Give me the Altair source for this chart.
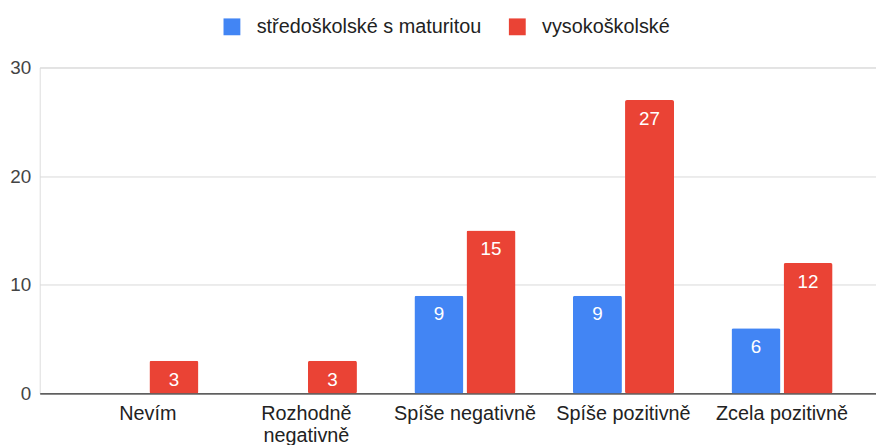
import altair as alt
import pandas as pd

categories = ["Nevím", "Rozhodně negativně", "Spíše negativně", "Spíše pozitivně", "Zcela pozitivně"]
series_names = ["středoškolské s maturitou", "vysokoškolské"]
stredoskolske = [None, None, 9, 9, 6]
vysokoskolske = [3, 3, 15, 27, 12]
colors = ["#4285F4", "#EA4335"]
y_ticks = [0, 10, 20, 30]

rows = []
for cat, a, b in zip(categories, stredoskolske, vysokoskolske):
    rows.append({"cat": cat, "series": series_names[0], "value": a})
    rows.append({"cat": cat, "series": series_names[1], "value": b})
df = pd.DataFrame(rows)

FONT = "Liberation Sans"

x_enc = alt.X("cat:N", sort=categories,
              scale=alt.Scale(domain=categories, paddingInner=0.3625, paddingOuter=0.31875, align=0.57),
              axis=alt.Axis(title=None, labelAngle=0, labelFontSize=20, labelColor="#222",
                            labelFont=FONT, ticks=False, labelPadding=10, domainColor="#333",
                            domainWidth=1.2, labelLineHeight=22, labelLimit=300,
                            labelExpr="datum.value == 'Rozhodně negativně' ? ['Rozhodně', 'negativně'] : datum.value"))
xoff = alt.XOffset("series:N", sort=series_names,
                   scale=alt.Scale(domain=series_names, paddingInner=0.06, paddingOuter=0))
y_enc = alt.Y("value:Q", scale=alt.Scale(domain=[0, 30], nice=False),
              axis=alt.Axis(title=None, values=y_ticks, labelFontSize=19, labelColor="#444",
                            labelFont=FONT, ticks=False, labelPadding=9, domain=False,
                            gridColor="#d9d9d9", gridWidth=1))

base = alt.Chart(df).transform_filter("isValid(datum.value)")

bars = base.mark_bar(cornerRadius=2).encode(
    x=x_enc, xOffset=xoff, y=y_enc,
    color=alt.Color("series:N", sort=series_names,
                    scale=alt.Scale(domain=series_names, range=colors),
                    legend=alt.Legend(title=None, orient="none", direction="horizontal",
                                      legendX=184, legendY=-51, symbolType="square",
                                      symbolSize=289, symbolStrokeWidth=0, labelFontSize=20,
                                      labelFont=FONT, labelColor="#222", labelOffset=15,
                                      labelLimit=400, columnPadding=26, padding=0))
)

labels = base.mark_text(dy=19, baseline="middle", color="white", fontSize=19, font=FONT).encode(
    x=x_enc, xOffset=xoff, y=y_enc, text=alt.Text("value:Q", format="d")
)

chart = alt.layer(bars, labels).properties(
    width=844, height=329,
    padding={"left": 32, "top": 58, "right": 0, "bottom": 50},
    autosize=alt.AutoSizeParams(type="none"),
).configure_view(stroke=None).configure(background="white")

chart.save("out.html", embed_options={"renderer": "svg", "actions": False})
